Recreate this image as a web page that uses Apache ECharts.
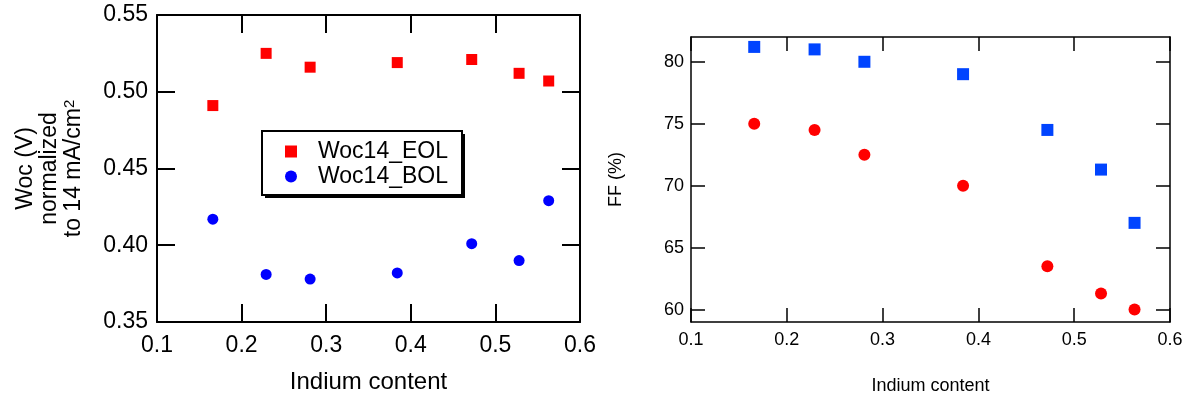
<!DOCTYPE html>
<html>
<head>
<meta charset="utf-8">
<script src="https://cdn.jsdelivr.net/npm/echarts@6/dist/echarts.min.js"></script>
<style>
  html, body { margin: 0; padding: 0; background: #fff; }
  #chart { width: 1188px; height: 400px; }
</style>
</head>
<body>
<div id="chart"></div>
<script>
// indium content (x) is shared by both panels
const indium = [0.166, 0.229, 0.281, 0.384, 0.472, 0.528, 0.563]
// left panel: Woc normalized to 14 mA/cm2
const wocEOL = [0.491, 0.525, 0.516, 0.519, 0.521, 0.512, 0.507]
const wocBOL = [0.417, 0.381, 0.378, 0.382, 0.401, 0.390, 0.429]
// right panel: fill factor (%)
const ffSquares = [81.2, 81.0, 80.0, 79.0, 74.5, 71.3, 67.0]
const ffCircles = [75.0, 74.5, 72.5, 70.0, 63.5, 61.3, 60.0]
const ffTicks = [60, 65, 70, 75, 80]

const font = "'Liberation Sans', Arial, Helvetica, sans-serif"
const pairs = (xs, ys) => xs.map((x, i) => [x, ys[i]])

const chart = echarts.init(document.getElementById("chart"))

// frame axis: line + inward ticks, no labels
const sideAxis = (w, len, extra) => Object.assign({
  axisLine: { show: true, onZero: false, lineStyle: { color: "#000", width: w } },
  axisTick: { show: true, inside: true, length: len, lineStyle: { color: "#000", width: w } },
  axisLabel: { show: false },
  splitLine: { show: false },
}, extra)

const option = {
  animation: false,
  backgroundColor: "#fff",
  textStyle: { fontFamily: font, color: "#000" },
  grid: [
    { left: 157, top: 15, width: 423, height: 307 },
    { left: 691, top: 37, width: 479, height: 289 },
  ],
  // legend box + drop shadow
  graphic: [
    { type: "rect", z: 5, shape: { x: 265, y: 134, width: 200, height: 64 }, style: { fill: "#000" } },
    { type: "rect", z: 6, shape: { x: 262, y: 131, width: 200, height: 64 },
      style: { fill: "#fff", stroke: "#000", lineWidth: 2 } },
  ],
  legend: {
    data: ["Woc14_EOL", "Woc14_BOL"],
    orient: "vertical",
    left: 262,
    top: 131,
    z: 10,
    padding: [9, 8, 8, 23],
    itemWidth: 12,
    itemHeight: 12,
    itemGap: 2,
    textStyle: { fontFamily: font, fontSize: 23, color: "#000", lineHeight: 22, padding: [0, 0, 0, 16] },
  },
  xAxis: [
    sideAxis(2, 18, {
      type: "value", gridIndex: 0, position: "bottom", min: 0.1, max: 0.6, interval: 0.1,
      axisLabel: { show: true, fontSize: 23, color: "#000", margin: 12, fontFamily: font },
      name: "Indium content", nameLocation: "middle", nameGap: 48,
      nameTextStyle: { fontSize: 24, color: "#000", fontFamily: font },
    }),
    sideAxis(2, 18, { type: "value", gridIndex: 0, position: "top", min: 0.1, max: 0.6, interval: 0.1 }),
    sideAxis(1.5, 14, {
      type: "value", gridIndex: 1, position: "bottom", min: 0.1, max: 0.6, interval: 0.1,
      axisLabel: { show: true, fontSize: 18, color: "#000", margin: 9, fontFamily: font },
      name: "Indium content", nameLocation: "middle", nameGap: 55,
      nameTextStyle: { fontSize: 18, color: "#000", fontFamily: font },
    }),
    sideAxis(1.5, 14, { type: "value", gridIndex: 1, position: "top", min: 0.1, max: 0.6, interval: 0.1 }),
  ],
  yAxis: [
    sideAxis(2, 18, {
      type: "value", gridIndex: 0, position: "left", min: 0.35, max: 0.55, interval: 0.05,
      axisLabel: { show: true, fontSize: 23, color: "#000", margin: 9, fontFamily: font,
        formatter: (v) => v.toFixed(2) },
      name: "{a|Woc (V)}\n{a|normalized}\n{a|to 14 mA/cm}{s|2}",
      nameLocation: "middle", nameRotate: 90, nameGap: 71,
      nameTextStyle: {
        fontSize: 23, lineHeight: 24, color: "#000", fontFamily: font,
        rich: {
          a: { fontSize: 23, lineHeight: 24, fontFamily: font, color: "#000" },
          s: { fontSize: 15, lineHeight: 15, verticalAlign: "top", fontFamily: font, color: "#000" },
        },
      },
    }),
    sideAxis(2, 18, { type: "value", gridIndex: 0, position: "right", min: 0.35, max: 0.55, interval: 0.05 }),
    sideAxis(1.5, 14, {
      type: "value", gridIndex: 1, position: "left", min: 59, max: 82,
      axisTick: { show: true, inside: true, length: 14, customValues: ffTicks, lineStyle: { color: "#000", width: 1.5 } },
      axisLabel: { show: true, fontSize: 18, color: "#000", margin: 7, fontFamily: font, customValues: ffTicks },
      name: "FF (%)", nameLocation: "middle", nameRotate: 90, nameGap: 66,
      nameTextStyle: { fontSize: 18, color: "#000", fontFamily: font },
    }),
    sideAxis(1.5, 14, {
      type: "value", gridIndex: 1, position: "right", min: 59, max: 82,
      axisTick: { show: true, inside: true, length: 14, customValues: ffTicks, lineStyle: { color: "#000", width: 1.5 } },
    }),
  ],
  series: [
    {
      name: "Woc14_EOL", type: "scatter", xAxisIndex: 0, yAxisIndex: 0,
      symbol: "rect", symbolSize: 11, itemStyle: { color: "#ff0000", opacity: 1 },
      data: pairs(indium, wocEOL),
    },
    {
      name: "Woc14_BOL", type: "scatter", xAxisIndex: 0, yAxisIndex: 0,
      symbol: "circle", symbolSize: 11, itemStyle: { color: "#0000ff", opacity: 1 },
      data: pairs(indium, wocBOL),
    },
    {
      name: "FF_EOL", type: "scatter", xAxisIndex: 2, yAxisIndex: 2,
      symbol: "rect", symbolSize: 12, itemStyle: { color: "#0044ff", opacity: 1 },
      data: pairs(indium, ffSquares),
    },
    {
      name: "FF_BOL", type: "scatter", xAxisIndex: 2, yAxisIndex: 2,
      symbol: "circle", symbolSize: 12, itemStyle: { color: "#ff0000", opacity: 1 },
      data: pairs(indium, ffCircles),
    },
  ],
}

chart.setOption(option)
</script>
</body>
</html>
